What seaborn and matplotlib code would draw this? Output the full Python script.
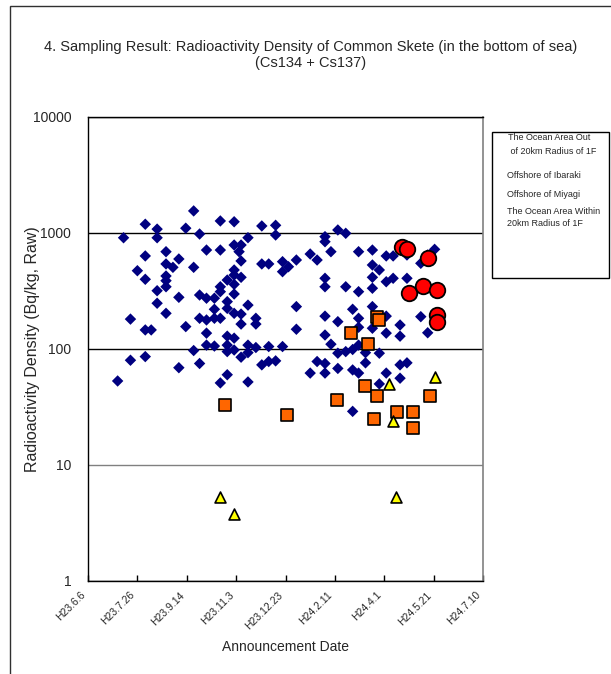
import numpy as np
import pandas as pd
import matplotlib
matplotlib.use('Agg')
import matplotlib.pyplot as plt
import matplotlib.transforms as mtransforms
from matplotlib.patches import Rectangle
from matplotlib.ticker import NullLocator
import seaborn as sns

# ---------------- data ----------------
base_date = '2011-06-06'  # H23.6.6
tick_days = [0, 50, 100, 150, 200, 250, 300, 350, 400]
tick_labels = ['H23.6.6', 'H23.7.26', 'H23.9.14', 'H23.11.3', 'H23.12.23',
               'H24.2.11', 'H24.4.1', 'H24.5.21', 'H24.7.10']
y_ticks = [1, 10, 100, 1000, 10000]
y_tick_labels = ['1', '10', '100', '1000', '10000']

series_names = ['The Ocean Area Out\n of 20km Radius of 1F',
                'Offshore of Ibaraki',
                'Offshore of Miyagi',
                'The Ocean Area Within\n20km Radius of 1F']

# The Ocean Area Out of 20km Radius of 1F (days after H23.6.6, Bq/kg)
out20_days = [30, 36, 43, 43, 50,
              58, 58, 58, 58, 58, 64,
              70, 70, 70, 70,
              79, 79, 79, 79, 79, 79, 86,
              92, 92, 92, 99, 99,
              107, 107, 107, 113, 113, 113, 113,
              120, 120, 120, 120, 120, 128, 128, 128, 128,
              134, 134, 134, 134, 134, 134,
              141, 141, 141, 141, 141, 141, 141,
              148, 148, 148, 148, 148, 148, 148, 148, 148, 153,
              155, 155, 155, 155, 155, 155,
              162, 162, 162, 162, 162, 170, 170, 170,
              176, 176, 176, 183, 183, 183, 190, 190, 190,
              197, 197, 197, 203, 211, 211, 211,
              225, 225, 232, 232,
              240, 240, 240, 240, 240, 240, 240, 240, 246, 246,
              253, 253, 253, 253, 261, 261, 261,
              268, 268, 268, 268,
              274, 274, 274, 274, 274, 274, 281, 281,
              288, 288, 288, 288, 288, 288, 295, 295, 295,
              302, 302, 302, 302, 302, 309, 309,
              316, 316, 316, 316, 323, 323, 323,
              337, 337, 344, 344, 351]
out20_vals = [53, 910, 181, 80, 473,
              1190, 634, 399, 146, 86, 146,
              1080, 910, 318, 248,
              690, 541, 426, 388, 344, 203, 506,
              597, 279, 69, 1100, 156,
              1550, 506, 97, 980, 292, 184, 75,
              713, 274, 178, 137, 108, 274, 220, 184, 106,
              1270, 713, 344, 312, 184, 51,
              393, 256, 224, 129, 108, 95, 60,
              1250, 788, 480, 434, 361, 298, 203, 124, 98, 690,
              788, 574, 415, 200, 164, 85,
              911, 239, 108, 93, 52, 184, 164, 103,
              1150, 541, 73, 541, 105, 78, 1165, 961, 79,
              566, 464, 105, 512, 585, 232, 148,
              659, 62, 585, 78,
              930, 841, 407, 344, 192, 132, 75, 62, 690, 110,
              1062, 172, 92, 68, 994, 344, 95,
              220, 99, 66, 29,
              690, 312, 184, 154, 108, 62, 93, 76,
              713, 530, 415, 334, 232, 151, 480, 92, 50,
              634, 380, 192, 137, 62, 634, 407,
              161, 129, 73, 56, 646, 407, 76,
              548, 190, 646, 138, 723]

# Offshore of Ibaraki
ibaraki_days = [139, 202, 252, 266, 281, 293, 295, 284, 293, 290, 313, 329, 329, 346]
ibaraki_vals = [33, 27, 36, 138, 48, 190, 178, 110, 39, 25, 28.5, 28.5, 21, 39]

# Offshore of Miyagi
miyagi_days = [134, 148, 305, 309, 312, 351]
miyagi_vals = [5.3, 3.8, 50, 24, 5.3, 57]

# The Ocean Area Within 20km Radius of 1F
within20_days = [318, 323, 344, 325, 339, 353, 353, 353]
within20_vals = [753, 723, 605, 302, 349, 323, 196, 172]

# ---------------- plotting ----------------
sns.set_theme(style='white')
plt.rcParams['font.family'] = ['Liberation Sans', 'DejaVu Sans']

base = pd.Timestamp(base_date)


def frame(days, vals):
    return pd.DataFrame({'date': base + pd.to_timedelta(days, unit='D'),
                         'value': vals})


W, H = 611, 674
fig = plt.figure(figsize=(W / 100, H / 100), dpi=100)
ax = fig.add_axes([88 / W, 93 / H, 395 / W, 464 / H])

styles = [
    (out20_days, out20_vals, dict(marker='D', s=34, color='#000080', edgecolor='none', linewidth=0)),
    (ibaraki_days, ibaraki_vals, dict(marker='s', s=64, color='#FF6600', edgecolor='black', linewidth=1.2)),
    (miyagi_days, miyagi_vals, dict(marker='^', s=62, color='#FFFF00', edgecolor='black', linewidth=1.2)),
    (within20_days, within20_vals, dict(marker='o', s=125, color='#FF0000', edgecolor='black', linewidth=1.3)),
]
for (d, v, kw), name in zip(styles, series_names):
    sns.scatterplot(data=frame(d, v), x='date', y='value', ax=ax, label=name,
                    zorder=3, clip_on=False, legend=False, **kw)

ax.set_yscale('log')
ax.set_ylim(1, 10000)
ax.set_yticks(y_ticks)
ax.set_yticklabels(y_tick_labels)
ax.yaxis.set_minor_locator(NullLocator())

xt = base + pd.to_timedelta(tick_days, unit='D')
ax.set_xlim(xt[0], xt[-1])
ax.set_xticks(xt)
ax.set_xticklabels(tick_labels, rotation=45, ha='right', va='center',
                   rotation_mode='anchor', fontsize=7.5)
ax.xaxis.set_minor_locator(NullLocator())
ax.tick_params(axis='x', direction='in', length=4, width=1, color='black',
               pad=9, bottom=True)
ax.tick_params(axis='y', length=0, pad=12, labelsize=10)
offset = mtransforms.ScaledTranslation(-4 / 100, 0, fig.dpi_scale_trans)
for lab in ax.get_xticklabels():
    lab.set_transform(lab.get_transform() + offset)

ax.yaxis.grid(True, color='black', linewidth=1)
ax.xaxis.grid(False)
gl = ax.yaxis.get_gridlines()
gl[1].set_color('#808080')
ax.set_axisbelow(True)

for side in ['left', 'bottom', 'top']:
    ax.spines[side].set_color('black')
    ax.spines[side].set_linewidth(1)
ax.spines['right'].set_color('#808080')
ax.spines['right'].set_linewidth(1.2)

ax.set_xlabel('Announcement Date', fontsize=10)
ax.set_ylabel('Radioactivity Density (Bq/kg, Raw)', fontsize=11.5)
ax.xaxis.set_label_coords(0.5, (581 - 640) / 464)
ax.yaxis.set_label_coords((40 - 88) / 395, 0.5)

fig.suptitle('4. Sampling Result: Radioactivity Density of Common Skete (in the bottom of sea)\n(Cs134 + Cs137)',
             x=311 / W, y=1 - 55 / H, va='center', ha='center', fontsize=10.5,
             linespacing=1.15)

# legend box: text entries only, as in the reference
fig.add_artist(Rectangle((492 / W, 1 - 278 / H), 117 / W, 146 / H,
                         transform=fig.transFigure, fill=False,
                         edgecolor='black', linewidth=1))
legend_lines = [(series_names[0].split('\n')[0], 508, 138),
                (series_names[0].split('\n')[1], 508, 152),
                (series_names[1], 507, 176),
                (series_names[2], 507, 194),
                (series_names[3].split('\n')[0], 507, 212),
                (series_names[3].split('\n')[1], 507, 223)]
for txt, lx, ly in legend_lines:
    fig.text(lx / W, 1 - ly / H, txt, ha='left', va='center', fontsize=6.5)

# chart-area border (left and top edges visible in the crop)
fig.add_artist(Rectangle((10 / W, -0.05), 1.0, (H - 6) / H + 0.05,
                         transform=fig.transFigure, fill=False,
                         edgecolor='#303030', linewidth=1, clip_on=False))

fig.savefig('out.png', dpi=100)
